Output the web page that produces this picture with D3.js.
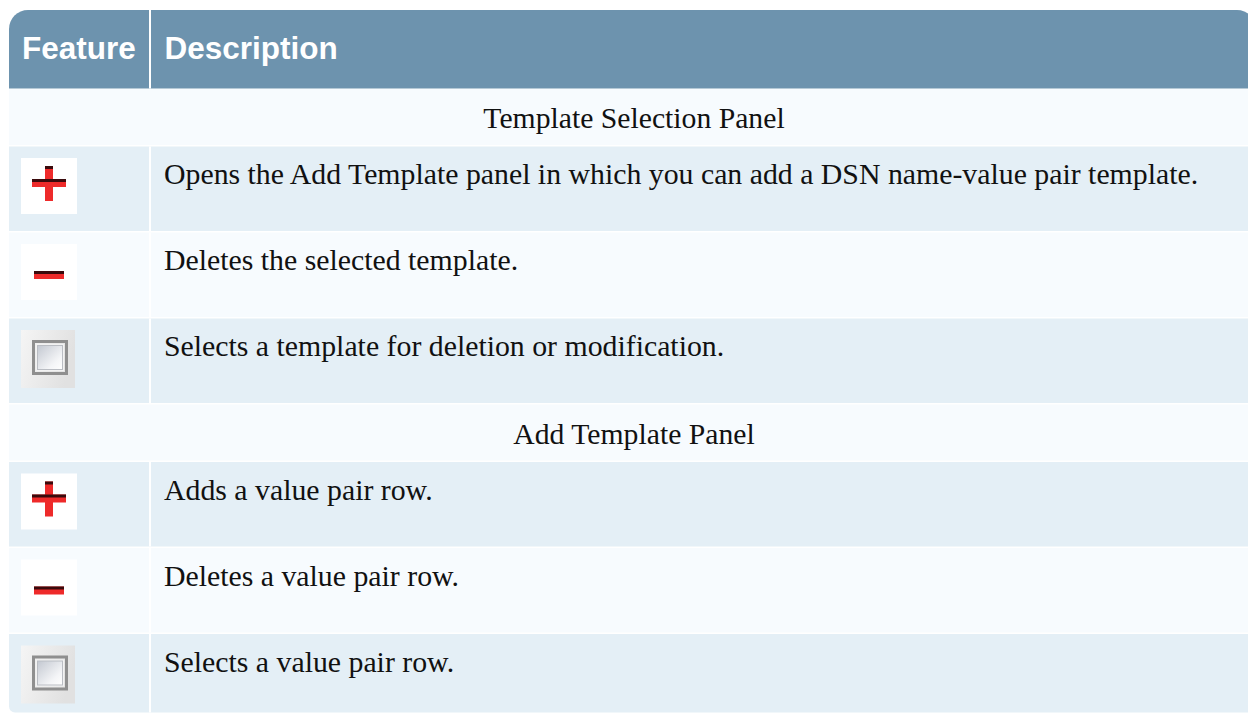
<!DOCTYPE html>
<html>
<head>
<meta charset="utf-8">
<script src="https://cdn.jsdelivr.net/npm/d3@7"></script>
<style>
  html, body { margin: 0; padding: 0; background: #ffffff; }
  svg { display: block; }
</style>
</head>
<body>
<svg id="chart" width="1248" height="713"></svg>
<script>
// ---- data ----
const headers = ["Feature", "Description"];
const sectionTitles = ["Template Selection Panel", "Add Template Panel"];
const rowSections = [0, 0, 0, 1, 1, 1];
const rowIcons = ["plus", "minus", "checkbox", "plus", "minus", "checkbox"];
const rowDescriptions = [
  "Opens the Add Template panel in which you can add a DSN name-value pair template.",
  "Deletes the selected template.",
  "Selects a template for deletion or modification.",
  "Adds a value pair row.",
  "Deletes a value pair row.",
  "Selects a value pair row."
];

// ---- layout ----
const W = 1248, H = 713;
const tableLeft = 9, tableRight = 1256, tableTop = 10;
const colSplit = 149, colGap = 2;
const headerH = 78.5, sectionH = 56, dataH = 84.5, gapH = 1.5;
const colors = { header: "#6d93ae", light: "#f7fbfe", dark: "#e4eff6", text: "#111111" };

// build the row sequence: section header rows followed by their data rows
const rows = [];
sectionTitles.forEach((t, si) => {
  rows.push({ type: "section", title: t });
  rowSections.forEach((s, i) => {
    if (s === si) rows.push({ type: "data", icon: rowIcons[i], text: rowDescriptions[i] });
  });
});
let yCursor = tableTop + headerH + 0.5;
rows.forEach((r, i) => {
  r.y = yCursor;
  r.h = r.type === "section" ? sectionH : dataH;
  r.fill = i % 2 === 0 ? colors.light : colors.dark;
  yCursor += r.h + gapH;
});

const x = d3.scaleLinear().domain([0, 1]).range([tableLeft, tableRight]);

const svg = d3.select("#chart");
const defs = svg.append("defs");

// rounded table clip
const rTop = 19, rBot = 6, bottom = 712.5;
const clipPath = d3.path();
clipPath.moveTo(tableLeft + rTop, tableTop);
clipPath.lineTo(tableRight - rTop, tableTop);
clipPath.arcTo(tableRight, tableTop, tableRight, tableTop + rTop, rTop);
clipPath.lineTo(tableRight, bottom);
clipPath.lineTo(tableLeft + rBot, bottom);
clipPath.arcTo(tableLeft, bottom, tableLeft, bottom - rBot, rBot);
clipPath.lineTo(tableLeft, tableTop + rTop);
clipPath.arcTo(tableLeft, tableTop, tableLeft + rTop, tableTop, rTop);
clipPath.closePath();
defs.append("clipPath").attr("id", "tableClip").append("path").attr("d", clipPath.toString());

// gradients for the checkbox icon
const gBg = defs.append("linearGradient").attr("id", "cbBg").attr("x1", 0).attr("y1", 0).attr("x2", 1).attr("y2", 0.3);
gBg.append("stop").attr("offset", "0%").attr("stop-color", "#f5f5f5");
gBg.append("stop").attr("offset", "100%").attr("stop-color", "#e1e1e1");
const gIn = defs.append("linearGradient").attr("id", "cbIn").attr("x1", 0).attr("y1", 0).attr("x2", 1).attr("y2", 1);
gIn.append("stop").attr("offset", "0%").attr("stop-color", "#c3c8d1");
gIn.append("stop").attr("offset", "70%").attr("stop-color", "#f4f5f7");
gIn.append("stop").attr("offset", "100%").attr("stop-color", "#ffffff");
defs.append("filter").attr("id", "soft").append("feGaussianBlur").attr("stdDeviation", 0.7);

const table = svg.append("g").attr("clip-path", "url(#tableClip)");

// header
table.append("rect")
  .attr("x", tableLeft).attr("y", tableTop)
  .attr("width", tableRight - tableLeft).attr("height", headerH)
  .attr("fill", colors.header);

// rows
const rowG = table.selectAll("g.row").data(rows).join("g").attr("class", "row");
rowG.append("rect")
  .attr("x", tableLeft).attr("y", d => d.y)
  .attr("width", tableRight - tableLeft).attr("height", d => d.h)
  .attr("fill", d => d.fill);

// column divider (header + data rows)
table.append("rect")
  .attr("x", colSplit).attr("y", tableTop)
  .attr("width", colGap).attr("height", headerH)
  .attr("fill", "#ffffff");
rowG.filter(d => d.type === "data").append("rect")
  .attr("x", colSplit).attr("y", d => d.y)
  .attr("width", colGap).attr("height", d => d.h)
  .attr("fill", "#ffffff");

// header texts
const headerX = [22, 164.5];
svg.selectAll("text.hdr").data(headers).join("text")
  .attr("class", "hdr")
  .attr("x", (d, i) => headerX[i]).attr("y", tableTop + 49)
  .attr("fill", "#ffffff")
  .attr("font-family", "'Liberation Sans', Arial, sans-serif")
  .attr("font-weight", "bold")
  .attr("font-size", 31.5)
  .text(d => d);

// section titles
rowG.filter(d => d.type === "section").append("text")
  .attr("x", (x(0) + x(1)) / 2 + 1.5).attr("y", d => d.y + 39.3)
  .attr("text-anchor", "middle")
  .attr("fill", colors.text)
  .attr("font-family", "'Liberation Serif', 'Times New Roman', serif")
  .attr("font-size", 29.7)
  .text(d => d.title);

// descriptions
rowG.filter(d => d.type === "data").append("text")
  .attr("x", 164).attr("y", d => d.y + 37.5)
  .attr("fill", colors.text)
  .attr("font-family", "'Liberation Serif', 'Times New Roman', serif")
  .attr("font-size", 29.8)
  .text(d => d.text);

// icons
const dataRows = rowG.filter(d => d.type === "data");
dataRows.each(function (d) {
  const g = d3.select(this).append("g").attr("transform", `translate(21,${d.y + 11.5})`);
  if (d.icon === "plus" || d.icon === "minus") {
    g.append("rect").attr("width", 56).attr("height", 56).attr("fill", "#ffffff");
    if (d.icon === "plus") {
      g.append("rect").attr("x", 24).attr("y", 8).attr("width", 8).attr("height", 35).attr("fill", "#ee2a2a");
      g.append("rect").attr("x", 24).attr("y", 8).attr("width", 8).attr("height", 3).attr("fill", "#3a0a0c");
      g.append("rect").attr("x", 11).attr("y", 21).attr("width", 34).attr("height", 8).attr("fill", "#ee2a2a");
      g.append("rect").attr("x", 11).attr("y", 21).attr("width", 34).attr("height", 3).attr("fill", "#3a0a0c");
    } else {
      g.append("rect").attr("x", 13).attr("y", 27).attr("width", 30).attr("height", 8).attr("fill", "#ee2a2a");
      g.append("rect").attr("x", 13).attr("y", 27).attr("width", 30).attr("height", 3).attr("fill", "#3a0a0c");
    }
  } else {
    g.append("rect").attr("width", 54).attr("height", 58).attr("fill", "url(#cbBg)");
    g.append("rect").attr("x", 12.5).attr("y", 11.5).attr("width", 33).attr("height", 32)
      .attr("fill", "none").attr("stroke", "#8f8f8f").attr("stroke-width", 3).attr("filter", "url(#soft)");
    g.append("rect").attr("x", 15).attr("y", 14).attr("width", 28).attr("height", 27)
      .attr("fill", "#f2f2f2");
    g.append("rect").attr("x", 16.5).attr("y", 15.5).attr("width", 25).attr("height", 24)
      .attr("fill", "url(#cbIn)").attr("stroke", "#babdc3").attr("stroke-width", 1);
  }
});
</script>
</body>
</html>
